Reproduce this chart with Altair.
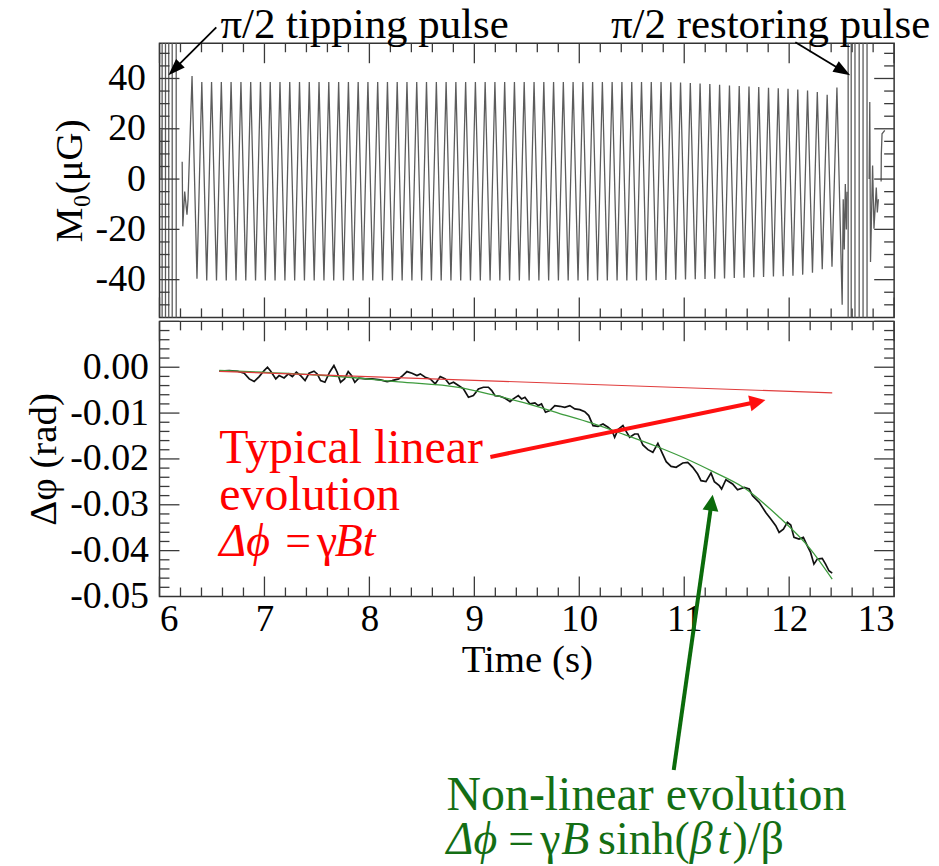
import altair as alt
import pandas as pd

FONT = "Liberation Serif"
TICK = "#3a3a3a"

# ---------------- upper panel: M0 precession signal ----------------
peak_t = [6.310, 6.403, 6.496, 6.589, 6.682, 6.776, 6.869, 6.962, 7.055, 7.148,
          7.241, 7.334, 7.427, 7.520, 7.613, 7.707, 7.800, 7.893, 7.986, 8.079,
          8.172, 8.265, 8.358, 8.451, 8.544, 8.638, 8.731, 8.824, 8.917, 9.010,
          9.103, 9.196, 9.289, 9.382, 9.475, 9.569, 9.662, 9.755, 9.848, 9.941,
          10.034, 10.127, 10.220, 10.313, 10.406, 10.500, 10.593, 10.686, 10.779, 10.872,
          10.965, 11.058, 11.151, 11.244, 11.337, 11.431, 11.524, 11.617, 11.710, 11.803,
          11.896, 11.989, 12.082, 12.175, 12.268, 12.362, 12.455]
peak_v = [41.0, 38.6, 38.6, 38.6, 38.6, 38.6, 38.6, 38.6, 38.6, 38.6,
          38.6, 38.6, 38.6, 38.6, 38.6, 38.6, 38.6, 38.6, 38.6, 38.6,
          38.6, 38.6, 38.6, 38.6, 38.6, 38.6, 38.6, 38.6, 38.6, 38.6,
          38.6, 38.6, 38.6, 38.6, 38.6, 38.6, 38.6, 38.6, 38.6, 38.6,
          38.6, 38.6, 38.6, 38.6, 38.6, 38.6, 38.6, 38.6, 38.6, 38.5,
          38.4, 38.2, 38.0, 37.8, 37.5, 37.2, 37.0, 36.8, 36.6, 36.3,
          36.1, 35.9, 35.6, 35.2, 34.6, 33.5, 36.4]
trough_t = [6.357, 6.450, 6.543, 6.636, 6.729, 6.822, 6.915, 7.008, 7.101, 7.195,
            7.288, 7.381, 7.474, 7.567, 7.660, 7.753, 7.846, 7.939, 8.032, 8.126,
            8.219, 8.312, 8.405, 8.498, 8.591, 8.684, 8.777, 8.870, 8.963, 9.057,
            9.150, 9.243, 9.336, 9.429, 9.522, 9.615, 9.708, 9.801, 9.894, 9.988,
            10.081, 10.174, 10.267, 10.360, 10.453, 10.546, 10.639, 10.732, 10.825, 10.919,
            11.012, 11.105, 11.198, 11.291, 11.384, 11.477, 11.570, 11.663, 11.756, 11.850,
            11.943, 12.036, 12.129, 12.222, 12.315, 12.408]
trough_v = [-39.6, -40.3, -40.3, -40.3, -40.3, -40.3, -40.3, -40.3, -40.3, -40.3,
            -40.3, -40.3, -40.3, -40.3, -40.3, -40.3, -40.3, -40.3, -40.3, -40.3,
            -40.3, -40.3, -40.3, -40.3, -40.3, -40.3, -40.3, -40.3, -40.3, -40.3,
            -40.3, -40.3, -40.3, -40.3, -40.3, -40.3, -40.3, -40.3, -40.3, -40.3,
            -40.3, -40.3, -40.3, -40.3, -40.3, -40.3, -40.3, -40.2, -40.1, -40.0,
            -39.9, -39.8, -39.7, -39.6, -39.5, -39.3, -39.2, -39.0, -38.9, -38.7,
            -38.6, -38.4, -38.0, -37.2, -35.9, -34.9]
# small transients just before / after the free precession
pre_t = [6.216, 6.222, 6.240, 6.262, 6.272]
pre_v = [6.9, -18.8, -5.0, -14.2, -8.0]
post_t = [12.505, 12.515, 12.525, 12.535, 12.545, 12.552]
post_v = [-50.0, -8.0, -28.0, -2.0, -20.0, -5.0]
# pi/2 pulses (saturate far beyond the axis range)
tip_t = [6.025, 6.025, 6.057, 6.057, 6.088, 6.088, 6.121, 6.121, 6.159, 6.159]
tip_v = [-150, 150, 150, -150, -150, 150, 150, -150, -150, 150]
tipmark_t = [6.016, 6.016]
tipmark_v = [19.5, -0.3]
rest_t = [12.562, 12.562, 12.591, 12.591, 12.627, 12.627, 12.667, 12.667, 12.704, 12.704, 12.742, 12.742]
rest_v = [150, -150, -150, 150, 150, -150, -150, 150, 150, -150, -150, 150]
ring_t = [12.762, 12.768, 12.775, 12.795, 12.808, 12.830, 12.840, 12.850]
ring_v = [0.0, 30.6, -33.0, 5.4, -19.7, -3.4, -13.3, -8.0]
restmark_t = [12.911, 12.885, 12.878, 12.876]
restmark_v = [19.4, 18.0, 10.0, -1.0]

# ---------------- lower panel: phase difference ----------------
phi_t = [6.570, 6.665, 6.744, 6.807, 6.855, 6.902, 6.950, 6.997, 7.029, 7.060,
         7.108, 7.140, 7.187, 7.228, 7.266, 7.304, 7.345, 7.387, 7.425, 7.472,
         7.503, 7.535, 7.576, 7.621, 7.662, 7.693, 7.725, 7.763, 7.798, 7.829,
         7.861, 7.899, 7.963, 8.026, 8.105, 8.168, 8.216, 8.279, 8.317, 8.358,
         8.406, 8.453, 8.485, 8.532, 8.580, 8.627, 8.675, 8.723, 8.761, 8.801,
         8.849, 8.896, 8.944, 8.991, 9.039, 9.086, 9.134, 9.166, 9.197, 9.245,
         9.292, 9.340, 9.371, 9.419, 9.450, 9.482, 9.530, 9.577, 9.609, 9.640,
         9.678, 9.720, 9.767, 9.815, 9.862, 9.910, 9.957, 10.005, 10.052, 10.090,
         10.131, 10.179, 10.226, 10.274, 10.312, 10.337, 10.369, 10.416, 10.448, 10.480,
         10.527, 10.559, 10.606, 10.654, 10.701, 10.749, 10.787, 10.828, 10.875, 10.923,
         10.986, 11.033, 11.081, 11.128, 11.160, 11.207, 11.255, 11.287, 11.334, 11.356,
         11.397, 11.461, 11.508, 11.572, 11.619, 11.651, 11.714, 11.777, 11.825, 11.872,
         11.904, 11.945, 11.983, 12.015, 12.046, 12.094, 12.135, 12.173, 12.204, 12.236,
         12.268, 12.315, 12.347, 12.379, 12.410]
phi_v = [-0.00087, -0.00073, -0.00087, -0.00131, -0.00255, -0.00313, -0.00204, -0.00073, 0.00000, -0.00087,
         -0.00255, -0.00182, -0.00233, -0.00146, -0.00204, -0.00109, -0.00182, -0.00291, -0.00131, -0.00087,
         -0.00146, -0.00291, -0.00328, -0.00109, 0.00036, -0.00109, -0.00328, -0.00255, -0.00095, -0.00182,
         -0.00328, -0.00240, -0.00255, -0.00255, -0.00277, -0.00313, -0.00291, -0.00255, -0.00182, -0.00095,
         -0.00131, -0.00182, -0.00146, -0.00218, -0.00255, -0.00364, -0.00204, -0.00255, -0.00364, -0.00328,
         -0.00400, -0.00473, -0.00655, -0.00619, -0.00473, -0.00437, -0.00437, -0.00509, -0.00619, -0.00633,
         -0.00677, -0.00750, -0.00691, -0.00619, -0.00691, -0.00655, -0.00801, -0.00779, -0.00837, -0.00801,
         -0.00983, -0.00946, -0.00837, -0.00852, -0.00873, -0.00837, -0.00910, -0.00924, -0.00968, -0.01055,
         -0.01274, -0.01288, -0.01237, -0.01310, -0.01383, -0.01528, -0.01361, -0.01274, -0.01405, -0.01528,
         -0.01456, -0.01456, -0.01696, -0.01798, -0.01856, -0.01659, -0.01856, -0.02060, -0.02162, -0.02183,
         -0.02089, -0.02074, -0.02183, -0.02329, -0.02474, -0.02496, -0.02307, -0.02496, -0.02584, -0.02657,
         -0.02453, -0.02547, -0.02671, -0.02620, -0.02657, -0.02802, -0.02948, -0.03166, -0.03312, -0.03457,
         -0.03603, -0.03530, -0.03384, -0.03443, -0.03712, -0.03748, -0.03712, -0.03894, -0.04039, -0.04294,
         -0.04185, -0.04170, -0.04294, -0.04440, -0.04490]
fit_t = [6.57, 7.00, 7.50, 8.00, 8.28, 8.85, 9.17, 9.48, 9.80, 10.12,
         10.43, 10.75, 11.07, 11.26, 11.57, 11.89, 12.20, 12.41]
fit_v = [-0.0007, -0.0011, -0.0017, -0.0026, -0.0032, -0.0044, -0.0060, -0.0078, -0.0100, -0.0122,
         -0.0147, -0.0174, -0.0205, -0.0226, -0.0263, -0.0324, -0.0396, -0.0462]
lin_t = [6.57, 12.41]
lin_v = [-0.0009, -0.0056]

# axis ticks
x_major = [6, 7, 8, 9, 10, 11, 12, 13]
x_minor = [6.2, 6.4, 6.6, 6.8, 7.2, 7.4, 7.6, 7.8, 8.2, 8.4, 8.6, 8.8, 9.2, 9.4, 9.6, 9.8,
           10.2, 10.4, 10.6, 10.8, 11.2, 11.4, 11.6, 11.8, 12.2, 12.4, 12.6, 12.8]
m_labels = [-40, -20, 0, 20, 40]
m_minor = [-50, -45, -35, -30, -25, -15, -10, -5, 5, 10, 15, 25, 30, 35, 45, 50]
p_labels = [0.0, -0.01, -0.02, -0.03, -0.04, -0.05]
p_major = [0.01, 0.0, -0.01, -0.02, -0.03, -0.04]
p_minor = [0.008, 0.006, 0.004, 0.002, -0.002, -0.004, -0.006, -0.008,
           -0.012, -0.014, -0.016, -0.018, -0.022, -0.024, -0.026, -0.028,
           -0.032, -0.034, -0.036, -0.038, -0.042, -0.044, -0.046, -0.048]

# annotations (data units of each panel)
up_text = ["π/2 tipping pulse", "π/2 restoring pulse"]
up_text_t = [6.58, 10.302]
up_text_v = [56.0, 56.0]
up_arrow_t0 = [6.541, 12.059]
up_arrow_v0 = [60.3, 54.4]
up_arrow_t1 = [6.139, 12.516]
up_arrow_v1 = [43.6, 42.9]
up_head_t = [6.085, 12.581]
up_head_v = [41.3, 41.3]
up_head_ang = [225, 121]

lo_arrow_t0 = [9.153, 10.900]
lo_arrow_v0 = [-0.01957, -0.08783]
lo_arrow_t1 = [11.700, 11.260]
lo_arrow_v1 = [-0.00752, -0.02954]
lo_head_t = [11.774, 11.271]
lo_head_v = [-0.00717, -0.02783]
lo_head_ang = [78.3, 8.0]
lo_arrow_col = ["#ff1010", "#0b6b0b"]

RED = "#ff0000"
GRN = "#146e14"
words_s = ["Typical linear", "evolution", "Non-linear evolution"]
words_t = [6.570, 6.570, 8.735]
words_v = [-0.02087, -0.03109, -0.09652]
words_c = [RED, RED, GRN]
frm_up_s = ["=", "γ", "=", "γ", "sinh(", ")/β"]
frm_up_t = [7.197, 7.500, 9.324, 9.628, 10.179, 11.461]
frm_up_v = [-0.04109, -0.04109, -0.10609, -0.10609, -0.10609, -0.10609]
frm_up_c = [RED, RED, GRN, GRN, GRN, GRN]
frm_it_s = ["Δϕ", "Bt", "Δϕ", "B", "β", "t"]
frm_it_t = [6.570, 7.671, 8.735, 9.827, 11.052, 11.318]
frm_it_v = [-0.04109, -0.04109, -0.10609, -0.10609, -0.10609, -0.10609]
frm_it_c = [RED, RED, GRN, GRN, GRN, GRN]

# ---------------- build ----------------
W = 737
H_UP = 275
H_LO = 276
XS = alt.Scale(domain=[6, 13], nice=False, zero=False)
YS_UP = alt.Scale(domain=[-55, 54], nice=False, zero=False)
YS_LO = alt.Scale(domain=[-0.05, 0.01], nice=False, zero=False)

hyph = "replace(format(datum.value, '{f}'), '\u2212', '-')"
AX_NONE = None
AX_Y_UP = alt.Axis(values=m_labels, labelExpr=hyph.format(f="d"), ticks=False, domain=False, grid=False,
                   labelFontSize=38, labelPadding=14, title="M₀(μG)", titleFontSize=39,
                   titlePadding=6, labelColor="black", titleColor="black", labelFont=FONT, titleFont=FONT,
                   titleFontWeight="normal")
AX_X_LO = alt.Axis(values=x_major, format="d", ticks=False, domain=False, grid=False,
                   labelFontSize=37, labelPadding=5, title="Time (s)", titleFontSize=39,
                   titlePadding=3, labelColor="black", titleColor="black", labelFont=FONT, titleFont=FONT,
                   titleFontWeight="normal")
AX_Y_LO = alt.Axis(values=p_labels, labelExpr=hyph.format(f=".2f"), ticks=False, domain=False, grid=False,
                   labelFontSize=38, labelPadding=11, title="Δφ (rad)", titleFontSize=39,
                   titlePadding=6, labelColor="black", titleColor="black", labelFont=FONT, titleFont=FONT,
                   titleFontWeight="normal")

rows = []
def add(seg, ts, vs):
    for i, (t, v) in enumerate(zip(ts, vs)):
        rows.append({"seg": seg, "i": i, "t": t, "v": v})

main_t, main_v = list(pre_t), list(pre_v)
for k in range(len(trough_t)):
    main_t += [peak_t[k], trough_t[k]]
    main_v += [peak_v[k], trough_v[k]]
main_t.append(peak_t[-1]); main_v.append(peak_v[-1])
main_t += post_t; main_v += post_v
add("main", main_t, main_v)
add("tip", tip_t, tip_v)
add("tipmark", tipmark_t, tipmark_v)
add("rest", rest_t, rest_v)
add("ring", ring_t, ring_v)
add("restmark", restmark_t, restmark_v)
osc = pd.DataFrame(rows)


def xticks(H, ax):
    out = []
    for vals, L in ((x_major, 20), (x_minor, 9)):
        base = alt.Chart(pd.DataFrame({"t": vals})).mark_rule(color=TICK, strokeWidth=1.3)
        out.append(base.encode(x=alt.X("t:Q", scale=XS, axis=ax), y=alt.value(0), y2=alt.value(L)))
        out.append(base.encode(x=alt.X("t:Q", scale=XS, axis=ax), y=alt.value(H), y2=alt.value(H - L)))
    return out


def yticks(major, minor, YS, ax):
    out = []
    for vals, L in ((major, 20), (minor, 10)):
        base = alt.Chart(pd.DataFrame({"v": vals})).mark_rule(color=TICK, strokeWidth=1.3)
        out.append(base.encode(y=alt.Y("v:Q", scale=YS, axis=ax), x=alt.value(0), x2=alt.value(L)))
        out.append(base.encode(y=alt.Y("v:Q", scale=YS, axis=ax), x=alt.value(W), x2=alt.value(W - L)))
    return out


# ---- upper panel ----
XU = dict(scale=XS, axis=AX_NONE)
YU = dict(scale=YS_UP, axis=AX_Y_UP)

osc_line = alt.Chart(osc).mark_line(clip=True, color="#5c5c5c", strokeWidth=1.3).encode(
    x=alt.X("t:Q", **XU), y=alt.Y("v:Q", **YU), detail="seg:N", order="i:Q")

up_ann_df = pd.DataFrame({"s": up_text, "t": up_text_t, "v": up_text_v})
up_txt = alt.Chart(up_ann_df).mark_text(font=FONT, fontSize=43, align="left", baseline="alphabetic",
                                        color="black").encode(
    x=alt.X("t:Q", **XU), y=alt.Y("v:Q", **YU), text="s:N")
up_arr_df = pd.DataFrame({"t": up_arrow_t0, "v": up_arrow_v0, "t1": up_arrow_t1, "v1": up_arrow_v1})
up_arr = alt.Chart(up_arr_df).mark_rule(color="black", strokeWidth=1.8).encode(
    x=alt.X("t:Q", **XU), y=alt.Y("v:Q", **YU), x2="t1:Q", y2="v1:Q")
up_head_df = pd.DataFrame({"t": up_head_t, "v": up_head_v, "a": up_head_ang})
up_head = alt.Chart(up_head_df).mark_point(shape="M0,0L-0.36,1L0.36,1Z", filled=True, size=1156,
                                           opacity=1, color="black", strokeWidth=0).encode(
    x=alt.X("t:Q", **XU), y=alt.Y("v:Q", **YU), angle=alt.Angle("a:Q", scale=None))

upper = alt.layer(osc_line, *xticks(H_UP, AX_NONE), *yticks(m_labels, m_minor, YS_UP, AX_Y_UP),
                  up_arr, up_head, up_txt).properties(width=W, height=H_UP)

# ---- lower panel ----
XL = dict(scale=XS, axis=AX_X_LO)
YL = dict(scale=YS_LO, axis=AX_Y_LO)

phi_df = pd.DataFrame({"t": phi_t, "v": phi_v})
fit_df = pd.DataFrame({"t": fit_t, "v": fit_v})
lin_df = pd.DataFrame({"t": lin_t, "v": lin_v})

phi_line = alt.Chart(phi_df).mark_line(color="#111111", strokeWidth=1.7).encode(
    x=alt.X("t:Q", **XL), y=alt.Y("v:Q", **YL))
fit_line = alt.Chart(fit_df).mark_line(color="#3d9b3d", strokeWidth=1.3, interpolate="monotone").encode(
    x=alt.X("t:Q", **XL), y=alt.Y("v:Q", **YL))
lin_line = alt.Chart(lin_df).mark_line(color="#e03c3c", strokeWidth=1.2).encode(
    x=alt.X("t:Q", **XL), y=alt.Y("v:Q", **YL))

lo_arr_df = pd.DataFrame({"t": lo_arrow_t0, "v": lo_arrow_v0, "t1": lo_arrow_t1, "v1": lo_arrow_v1,
                          "c": lo_arrow_col})
lo_arr = alt.Chart(lo_arr_df).mark_rule(strokeWidth=4).encode(
    x=alt.X("t:Q", **XL), y=alt.Y("v:Q", **YL), x2="t1:Q", y2="v1:Q",
    color=alt.Color("c:N", scale=None))
lo_head_df = pd.DataFrame({"t": lo_head_t, "v": lo_head_v, "a": lo_head_ang, "c": lo_arrow_col})
lo_head = alt.Chart(lo_head_df).mark_point(shape="M0,0L-0.5,1L0.5,1Z", filled=True, size=1024,
                                           opacity=1, strokeWidth=0).encode(
    x=alt.X("t:Q", **XL), y=alt.Y("v:Q", **YL),
    angle=alt.Angle("a:Q", scale=None), color=alt.Color("c:N", scale=None))


def text_layer(s, t, v, c, size, style):
    df = pd.DataFrame({"s": s, "t": t, "v": v, "c": c})
    return alt.Chart(df).mark_text(font=FONT, fontSize=size, fontStyle=style, align="left",
                                   baseline="alphabetic").encode(
        x=alt.X("t:Q", **XL), y=alt.Y("v:Q", **YL), text="s:N", color=alt.Color("c:N", scale=None))


txt_w = text_layer(words_s, words_t, words_v, words_c, 48, "normal")
txt_n = text_layer(frm_up_s, frm_up_t, frm_up_v, frm_up_c, 46, "normal")
txt_i = text_layer(frm_it_s, frm_it_t, frm_it_v, frm_it_c, 46, "italic")

lower = alt.layer(phi_line, fit_line, lin_line, *xticks(H_LO, AX_X_LO), *yticks(p_major, p_minor, YS_LO, AX_Y_LO),
                  lo_arr, lo_head, txt_w, txt_n, txt_i).properties(width=W, height=H_LO)

chart = alt.vconcat(upper, lower, spacing=0).properties(
    padding={"left": 16, "top": -6, "right": 0, "bottom": 0}
).configure(font=FONT).configure_view(stroke="#333333", strokeWidth=1.5)

chart.save("out.html", embed_options={"renderer": "svg", "actions": False})
